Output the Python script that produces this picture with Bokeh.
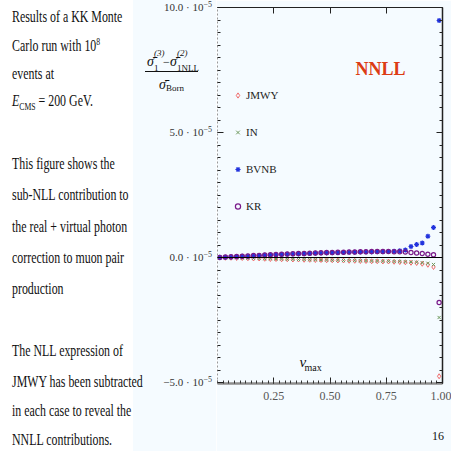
from bokeh.plotting import figure
from bokeh.layouts import row
from bokeh.models import (ColumnDataSource, Range1d, LinearAxis, FixedTicker, Span,
                          Label, Legend, LegendItem, Div, CustomLabelingPolicy)
from bokeh.embed import file_html
from bokeh.resources import INLINE

# ---------------- data (y in units of 1e-5) ----------------
v_max = [0.010, 0.035, 0.060, 0.085, 0.110, 0.135, 0.160, 0.185, 0.210, 0.235,
         0.260, 0.285, 0.310, 0.335, 0.360, 0.385, 0.410, 0.435, 0.460, 0.485,
         0.510, 0.535, 0.560, 0.585, 0.610, 0.635, 0.660, 0.685, 0.710, 0.735,
         0.760, 0.785, 0.810, 0.835, 0.860, 0.885, 0.910, 0.935, 0.960, 0.985]

jmwy = [0.00, -0.01, -0.01, -0.02, -0.02, -0.03, -0.04, -0.04, -0.05, -0.06,
        -0.06, -0.07, -0.07, -0.08, -0.08, -0.09, -0.09, -0.10, -0.10, -0.11,
        -0.11, -0.12, -0.12, -0.13, -0.13, -0.14, -0.14, -0.15, -0.15, -0.16,
        -0.16, -0.17, -0.18, -0.19, -0.21, -0.22, -0.25, -0.29, -0.38, -4.75]

in_ = [0.00, -0.01, -0.01, -0.01, -0.02, -0.03, -0.03, -0.04, -0.05, -0.05,
       -0.06, -0.06, -0.07, -0.07, -0.08, -0.08, -0.09, -0.09, -0.10, -0.10,
       -0.11, -0.11, -0.12, -0.12, -0.12, -0.13, -0.13, -0.14, -0.14, -0.15,
       -0.15, -0.16, -0.16, -0.17, -0.18, -0.19, -0.21, -0.23, -0.28, -2.40]

bvnb = [0.01, 0.01, 0.02, 0.03, 0.05, 0.05, 0.06, 0.08, 0.09, 0.10,
        0.11, 0.12, 0.13, 0.14, 0.14, 0.15, 0.16, 0.17, 0.18, 0.18,
        0.19, 0.19, 0.20, 0.21, 0.21, 0.22, 0.22, 0.22, 0.23, 0.23,
        0.24, 0.25, 0.27, 0.30, 0.44, 0.52, 0.58, 0.85, 1.20, 9.48]

kr = [0.00, 0.02, 0.03, 0.04, 0.05, 0.06, 0.08, 0.08, 0.10, 0.11,
      0.12, 0.13, 0.14, 0.15, 0.16, 0.16, 0.17, 0.18, 0.19, 0.20,
      0.20, 0.21, 0.21, 0.22, 0.22, 0.23, 0.23, 0.24, 0.24, 0.24,
      0.24, 0.23, 0.23, 0.22, 0.20, 0.18, 0.16, 0.13, 0.11, -1.80]

series_names = ["JMWY", "IN", "BVNB", "KR"]

y_ticks = [-5.0, 0.0, 5.0, 10.0]
y_tick_labels = ["\u22125.0 \u00b7 10<sup>\u22125</sup>", "0.0 \u00b7 10<sup>\u22125</sup>",
                 "5.0 \u00b7 10<sup>\u22125</sup>", "10.0 \u00b7 10<sup>\u22125</sup>"]
x_ticks = [0.25, 0.50, 0.75, 1.00]
x_tick_labels = ["0.25", "0.50", "0.75", "1.00"]

SERIF = "Liberation Serif"
TINT = "#f5fbff"

# ---------------- main plot ----------------
W_LEFT = 216
W_MAIN = 451 - W_LEFT
H = 451
B_LEFT, B_RIGHT, B_TOP, B_BOTTOM = 1, 9, 7, 68
Y0, Y1 = -5.04, 10.0

p = figure(width=W_MAIN, height=H, output_backend="svg", toolbar_location=None,
           x_range=Range1d(0.0, 1.0), y_range=Range1d(Y0, Y1),
           x_axis_type=None, y_axis_type=None,
           min_border_left=B_LEFT, min_border_right=B_RIGHT,
           min_border_top=B_TOP, min_border_bottom=B_BOTTOM,
           background_fill_color=TINT, border_fill_color=TINT)
p.outline_line_color = None

x_minor = [round(0.025 * k, 3) for k in range(0, 41)]
y_minor = [round(-5.0 + 0.5 * k, 2) for k in range(0, 31)]


def no_labels():
    # frame-side axes that only carry tick marks
    return CustomLabelingPolicy(code="for (const i of indices) { indices.unset(i) }\nreturn indices")


left = LinearAxis(ticker=FixedTicker(ticks=y_ticks, minor_ticks=y_minor),
                  major_label_policy=no_labels(),
                  major_label_text_font_size="0px", major_label_standoff=0,
                  major_tick_in=6, major_tick_out=0, minor_tick_in=3, minor_tick_out=0,
                  major_tick_line_color="#222222", minor_tick_line_color="#222222",
                  axis_line_color="#999999", axis_line_dash="2 2")
p.add_layout(left, "left")

right = LinearAxis(ticker=FixedTicker(ticks=y_ticks, minor_ticks=y_minor),
                   major_label_policy=no_labels(),
                   major_label_text_font_size="0px", major_label_standoff=0,
                   major_tick_in=6, major_tick_out=0, minor_tick_in=3, minor_tick_out=0,
                   major_tick_line_color="#222222", minor_tick_line_color="#222222",
                   axis_line_color="#222222", axis_line_width=1.5)
p.add_layout(right, "right")

below = LinearAxis(ticker=FixedTicker(ticks=x_ticks, minor_ticks=x_minor),
                   major_label_overrides=dict(zip(x_ticks, x_tick_labels)),
                   major_label_text_font=SERIF, major_label_text_font_size="12px",
                   major_label_text_color="#555555", major_label_standoff=8,
                   major_tick_in=6, major_tick_out=0, minor_tick_in=3, minor_tick_out=0,
                   major_tick_line_color="#222222", minor_tick_line_color="#333333",
                   axis_line_color="#8c8c8c", axis_line_width=2.5)
p.add_layout(below, "below")

# slide page number, carried as the single label of a bare second axis
page_no = LinearAxis(ticker=FixedTicker(ticks=[0.98], minor_ticks=[]),
                     major_label_overrides={0.98: "16"},
                     major_label_text_font=SERIF, major_label_text_font_size="12px",
                     major_label_text_color="#111111", major_label_standoff=29,
                     major_tick_in=0, major_tick_out=0, minor_tick_in=0, minor_tick_out=0,
                     major_tick_line_color=None, minor_tick_line_color=None,
                     axis_line_color=None)
p.add_layout(page_no, "below")

above = LinearAxis(ticker=FixedTicker(ticks=x_ticks, minor_ticks=[]),
                   major_label_policy=no_labels(),
                   major_label_text_font_size="0px", major_label_standoff=0,
                   major_tick_in=6, major_tick_out=0, minor_tick_in=0, minor_tick_out=0,
                   major_tick_line_color="#222222",
                   axis_line_color="#222222", axis_line_width=1.2)
p.add_layout(above, "above")

p.add_layout(Span(location=0, dimension="width", line_color="black", line_width=1))

src = ColumnDataSource(dict(x=v_max, jmwy=jmwy, inn=in_, bvnb=bvnb, kr=kr))
r_j = p.scatter("x", "jmwy", source=src, marker="diamond", size=5,
                fill_color=None, line_color="#f06a6a", line_width=1)
r_i = p.scatter("x", "inn", source=src, marker="x", size=4.5,
                line_color="#6f9a5f", line_width=1)
r_b = p.scatter("x", "bvnb", source=src, marker="asterisk", size=5,
                line_color="#2233dd", line_width=1.2)
r_k = p.scatter("x", "kr", source=src, marker="circle", size=4.2,
                fill_color=None, line_color="#7a1a8a", line_width=1.2)

legend = Legend(items=[LegendItem(label=n, renderers=[r]) for n, r in
                       zip(series_names, [r_j, r_i, r_b, r_k])],
                location=(14, 170), orientation="vertical", spacing=23,
                glyph_width=13, glyph_height=14, label_height=12, label_standoff=2,
                padding=0, margin=0, background_fill_alpha=0, border_line_alpha=0,
                label_text_font=SERIF, label_text_font_size="11px",
                label_text_color="#222222")
p.add_layout(legend)

FL = B_LEFT + W_LEFT          # page x of frame left
FB = H - B_BOTTOM             # page y of frame bottom


def plab(px, py, text, size, align="left", color="#111111", style="normal"):
    p.add_layout(Label(x=px - FL, y=FB - py, x_units="screen", y_units="screen",
                       text=text, text_font=SERIF, text_font_size=f"{size}px",
                       text_align=align, text_baseline="middle", text_color=color,
                       text_font_style=style))


plab(299, 361, "v", 15, style="italic")
plab(304, 367, "max", 10)
plab(380, 68, "NNLL", 18, align="center", color="#dc3c14", style="bold")

# ---------------- left text panel (HTML) ----------------
parts = []


def span(px, py, html, size, align="left", style="", sx=1.0, color="#111111"):
    if align == "left":
        pos = f"left:{px}px;transform-origin:left center;"
    else:
        pos = f"right:{W_LEFT - px}px;transform-origin:right center;"
    parts.append(
        f'<span style="position:absolute;{pos}top:{py}px;font-size:{size}px;'
        f'line-height:1;white-space:nowrap;color:{color};'
        f'transform:translateY(-50%) scaleX({sx});{style}">{html}</span>')


TXT, SX = 17, 0.70
sub = '<sub style="font-size:11px;">CMS</sub>'
span(12, 16, "Results of a KK Monte", TXT, sx=SX)
span(12, 45, 'Carlo run with 10<sup style="font-size:11px;">8</sup>', TXT, sx=SX)
span(12, 73, "events at", TXT, sx=SX)
span(12, 102, f"<i>E</i>{sub} = 200 GeV.", TXT, sx=SX)

span(12, 163, "This figure shows the", TXT, sx=SX)
span(12, 194, "sub-NLL contribution to", TXT, sx=SX)
span(12, 226, "the real + virtual photon", TXT, sx=SX)
span(12, 257, "correction to muon pair", TXT, sx=SX)
span(12, 288, "production", TXT, sx=SX)

span(12, 350, "The NLL expression of", TXT, sx=SX)
span(12, 381, "JMWY has been subtracted", TXT, sx=SX)
span(12, 410, "in each case to reveal the", TXT, sx=SX)
span(12, 439, "NNLL contributions.", TXT, sx=SX)

# y-axis label (fraction)
span(147, 62, "\u03c3\u0304", 14, style="font-style:italic;")
span(154, 53, "(3)", 9, style="font-style:italic;")
span(154, 68, "1", 9)
span(163, 62, "\u2212", 12)
span(170, 62, "\u03c3\u0304", 14, style="font-style:italic;")
span(177, 53, "(2)", 9, style="font-style:italic;")
span(177, 68, "1NLL", 9)
parts.append('<div style="position:absolute;left:145px;top:71px;width:53px;height:1px;'
             'background:#111111;"></div>')
span(159, 85, "\u03c3\u0304", 14, style="font-style:italic;")
span(166, 88, "Born", 9)

# y tick labels of the main plot, placed at the main plot's tick positions
frame_h = H - B_TOP - B_BOTTOM
for v, txt in zip(y_ticks, y_tick_labels):
    py = B_TOP + (Y1 - v) / (Y1 - Y0) * frame_h
    span(212, py, txt.replace("<sup>", '<sup style="font-size:8px;">'), 11,
         align="right", color="#333333")

html = (f'<div style="position:relative;width:{W_LEFT}px;height:{H}px;overflow:hidden;'
        f'background:white;font-family:\'{SERIF}\';">'
        f'<div style="position:absolute;left:133px;top:0;width:{W_LEFT - 133}px;'
        f'height:{H}px;background:{TINT};"></div>'
        + "".join(parts) + '</div>')

panel = Div(text=html, width=W_LEFT, height=H, margin=0)

layout = row(panel, p, spacing=0)
open("out.html", "w").write(file_html(layout, INLINE))
